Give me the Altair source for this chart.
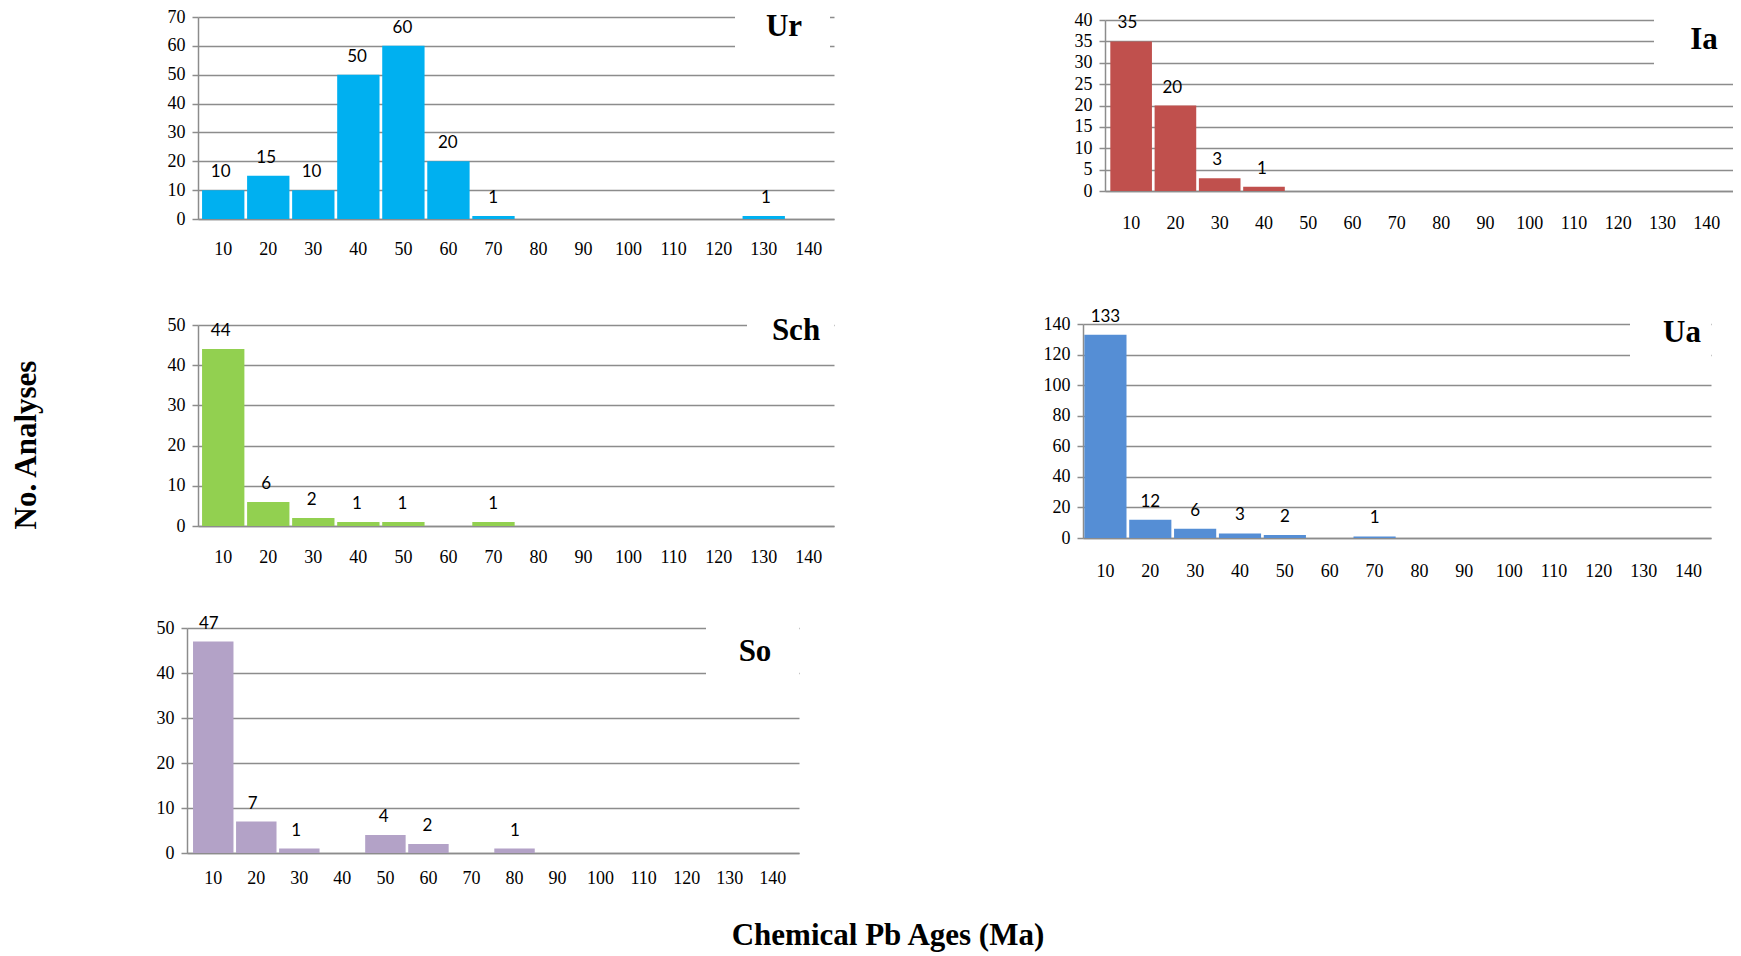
import altair as alt
import pandas as pd

# ---------------- data ----------------
ages = ["10", "20", "30", "40", "50", "60", "70", "80", "90", "100", "110", "120", "130", "140"]

ur_counts = [10, 15, 10, 50, 60, 20, 1, 0, 0, 0, 0, 0, 1, 0]
ia_counts = [35, 20, 3, 1, 0, 0, 0, 0, 0, 0, 0, 0, 0, 0]
sch_counts = [44, 6, 2, 1, 1, 0, 1, 0, 0, 0, 0, 0, 0, 0]
ua_counts = [133, 12, 6, 3, 2, 0, 1, 0, 0, 0, 0, 0, 0, 0]
so_counts = [47, 7, 1, 0, 4, 2, 0, 1, 0, 0, 0, 0, 0, 0]

ur_ticks = [0, 10, 20, 30, 40, 50, 60, 70]
ia_ticks = [0, 5, 10, 15, 20, 25, 30, 35, 40]
sch_ticks = [0, 10, 20, 30, 40, 50]
ua_ticks = [0, 20, 40, 60, 80, 100, 120, 140]
so_ticks = [0, 10, 20, 30, 40, 50]

y_title = "No. Analyses"
x_title = "Chemical Pb Ages (Ma)"

# ---------------- styling / layout ----------------
CW, CH = 1725, 945
GRAY = "#8c8c8c"
SERIF = "Liberation Serif"
SANS = "Lato"


def panel(name, counts, color, yticks, frame, outer, xpad, title_pos, box):
    left, top, w, h = frame
    df = pd.DataFrame({"age": ages, "count": counts})
    df = df[df["count"] > 0]

    def xscale():
        return alt.Scale(domain=ages, range=[left, left + w], paddingInner=0.06, paddingOuter=outer)

    def yscale():
        return alt.Scale(domain=[yticks[0], yticks[-1]], range=[top + h, top], nice=False, zero=True)

    x_axis = alt.Axis(
        orient="bottom", offset=top + h - CH, title=None, ticks=False, tickSize=0,
        domainColor=GRAY, domainWidth=1.5, labelAngle=0, labelFont=SERIF,
        labelFontSize=18, labelColor="black", labelPadding=xpad, labelOverlap=False,
        grid=False,
    )
    y_axis = alt.Axis(
        orient="left", offset=-left, title=None, values=yticks, grid=True,
        gridColor=GRAY, gridWidth=1.5, domainColor=GRAY, domainWidth=1.5,
        tickColor=GRAY, tickWidth=1.5, tickSize=6, labelFont=SERIF, labelFontSize=18,
        labelColor="black", labelPadding=7,
    )

    bars = alt.Chart(df).mark_bar(color=color).encode(
        x=alt.X("age:N", sort=ages, scale=xscale(), axis=x_axis),
        y=alt.Y("count:Q", scale=yscale(), axis=y_axis),
    )
    labels = alt.Chart(df).mark_text(
        font=SANS, fontSize=17, color="black", baseline="bottom", dy=-9
    ).encode(
        x=alt.X("age:N", sort=ages, scale=xscale(), axis=None),
        y=alt.Y("count:Q", scale=yscale(), axis=None),
        text="count:Q",
    )

    one = pd.DataFrame({"label": [name]})
    bx0, bx1, by0, by1 = box
    cover = alt.Chart(one).mark_rect(color="white").encode(
        x=alt.value(left + bx0), x2=alt.value(left + bx1),
        y=alt.value(max(top + by0, 0)), y2=alt.value(top + by1),
    )
    tx, ty = title_pos
    title = alt.Chart(one).mark_text(
        font=SERIF, fontWeight="bold", fontSize=31, color="black",
        align="center", baseline="middle",
    ).encode(x=alt.value(left + tx), y=alt.value(top + ty), text="label:N")

    return [bars, cover, labels, title]


layers = []
layers += panel("Ur", ur_counts, "#00B0F0", ur_ticks, (190, 9, 636, 202), 0.09, 21,
                (586, 10), (537, 632, -9, 40))
layers += panel("Ia", ia_counts, "#C0504D", ia_ticks, (1097, 12, 628, 171), 0.12, 23,
                (599, 20), (549, 628, -12, 55))
layers += panel("Sch", sch_counts, "#92D050", sch_ticks, (190, 317, 636, 201), 0.09, 22,
                (598, 6), (549, 636, -14, 25))
layers += panel("Ua", ua_counts, "#558ED5", ua_ticks, (1075, 316, 628, 214), 0.03, 24,
                (599, 9), (547, 628, -14, 48))
layers += panel("So", so_counts, "#B3A2C7", so_ticks, (179, 620, 612, 225), 0.14, 16,
                (568, 24), (519, 612, -10, 70))

ytxt = alt.Chart(pd.DataFrame({"label": [y_title]})).mark_text(
    font=SERIF, fontWeight="bold", fontSize=31, color="black",
    align="center", baseline="middle", angle=270,
).encode(x=alt.value(19), y=alt.value(437), text="label:N")

xtxt = alt.Chart(pd.DataFrame({"label": [x_title]})).mark_text(
    font=SERIF, fontWeight="bold", fontSize=31, color="black",
    align="center", baseline="middle",
).encode(x=alt.value(880), y=alt.value(928), text="label:N")

chart = (
    alt.layer(*layers, ytxt, xtxt)
    .resolve_scale(x="independent", y="independent")
    .properties(width=CW, height=CH, padding=0)
    .configure_view(strokeWidth=0)
)

chart.save("out.html", embed_options={"renderer": "svg", "actions": False})
